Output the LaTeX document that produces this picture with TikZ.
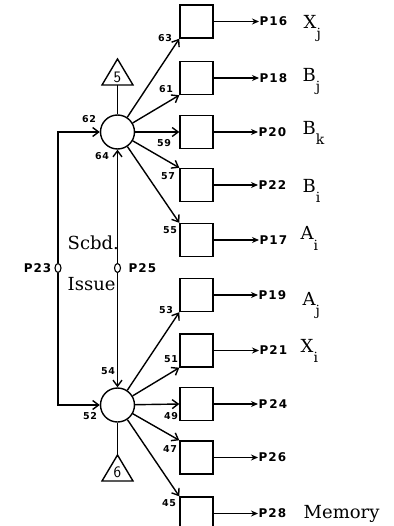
\documentclass[tikz,border=0pt]{standalone}
\usepackage{fontspec}
\setmainfont{DejaVu Serif}
\newfontfamily\lblfont[LetterSpace=8]{DejaVu Sans}
\usetikzlibrary{arrows.meta,shapes.geometric}
\newcommand\subx[2]{#1\raisebox{-10pt}{\fontsize{14}{14}\selectfont #2}}
\begin{document}
\begin{tikzpicture}[x=1pt,y=-1pt,line width=1.4pt,
  box/.style={draw,minimum width=33pt,minimum height=33pt,inner sep=0pt},
  hub/.style={draw,circle,minimum size=34pt,inner sep=0pt},
  tap/.style={draw,fill=white,ellipse,minimum width=6pt,minimum height=9pt,inner sep=0pt,line width=1.1pt},
  num/.style={font=\fontsize{9.5}{9.5}\selectfont\lblfont\bfseries,inner sep=0pt},
  plab/.style={font=\fontsize{12}{12}\selectfont\lblfont\bfseries,inner sep=0pt,anchor=west},
  var/.style={font=\fontsize{18}{18}\selectfont,inner sep=0pt,anchor=base west},
  tri/.style={font=\fontsize{16}{16}\selectfont\sffamily,inner sep=0pt},
  arr/.style={-{Straight Barb[length=6pt,width=9pt]}},
  outarr/.style={-{Stealth[length=7pt,width=6pt]}}
]
\useasboundingbox (0,0) rectangle (393,526);
\clip (0,0) rectangle (393,526);

% hubs
\node[hub] (c1) at (117.5,132) {};
\node[hub] (c2) at (117.5,405) {};

% triangles
\draw (117.5,59) -- (133,85) -- (102,85) -- cycle;
\node[tri] (five) at (117.5,77) {5};
\coordinate (t5) at (117.5,85);
\draw (t5) -- (c1);
\draw (117.5,455) -- (133,481) -- (102,481) -- cycle;
\node[tri] (six) at (117.5,472) {6};
\coordinate (t6) at (117.5,455);
\draw (t6) -- (c2);

% boxes
\node[box] (b63) at (196.5,21.5) {};
\node[box] (b61) at (196.5,78) {};
\node[box] (b59) at (196.5,132) {};
\node[box] (b57) at (196.5,185) {};
\node[box] (b55) at (196.5,240) {};
\node[box] (b53) at (196.5,295) {};
\node[box] (b51) at (196.5,350.5) {};
\node[box] (b49) at (196.5,404) {};
\node[box] (b47) at (196.5,457.5) {};
\node[box] (b45) at (196.5,513.5) {};

% hub to boxes
\draw[arr] (c1) -- (b63.south west);
\draw[arr] (c1) -- (b61.south west);
\draw[arr] (c1) -- (b59.west);
\draw[arr] (c1) -- (b57.north west);
\draw[arr] (c1) -- (b55.north west);
\draw[arr] (c2) -- (b53.south west);
\draw[arr] (c2) -- (b51.south west);
\draw[arr] (c2) -- (b49.west);
\draw[arr] (c2) -- (b47.north west);
\draw[arr] (c2) -- (b45.north west);

% taps and feed lines
\node[tap] (tapL) at (58,268) {};
\node[tap] (tapM) at (117.5,268) {};
\draw[arr] (tapL) |- (c1);
\draw[arr] (tapL) |- (c2);
\draw[arr] (tapM) -- (c1);
\draw[arr] (tapM) -- (c2);
\node[plab,anchor=east] (p23) at (52,268) {P23};
\node[plab] (p25) at (128,268) {P25};

% outputs
\node[plab] (p16) at (259,21.5) {P16};
\node[plab] (p18) at (259,78) {P18};
\node[plab] (p20) at (258,132) {P20};
\node[plab] (p22) at (258,185) {P22};
\node[plab] (p17) at (259,240) {P17};
\node[plab] (p19) at (258,295) {P19};
\node[plab] (p21) at (259,350.5) {P21};
\node[plab] (p24) at (258,404) {P\,24};
\node[plab] (p26) at (258,457.5) {P26};
\node[plab] (p28) at (258,513.5) {P28};
\foreach \b/\p in {b63/p16,b61/p18,b59/p20,b57/p22,b55/p17,b53/p19,b51/p21,b49/p24,b47/p26,b45/p28}
  \draw[outarr] (\b.east) -- (\p.west);

% variable labels
\node[var] (vxj) at (303,29) {\subx{X}{j}};
\node[var] (vbj) at (302,82) {\subx{B}{j}};
\node[var] (vbk) at (302,135) {\subx{B}{k}};
\node[var] (vbi) at (302,193) {\subx{B}{i}};
\node[var] (vai) at (300,240) {\subx{A}{i}};
\node[var] (vaj) at (302,305) {\subx{A}{j}};
\node[var] (vxi) at (300,352) {\subx{X}{i}};
\node[var] (mem) at (303,518) {Memory};
\node[var] (scbd) at (67,249) {Scbd.};
\node[var] (issue) at (67,290) {Issue};

% numbers
\node[num] (n62) at (89,119.5) {62};
\node[num] (n64) at (102,156.5) {64};
\node[num] (n63) at (165,38) {63};
\node[num] (n61) at (166,89) {61};
\node[num] (n59) at (164,143) {59};
\node[num] (n57) at (168,176.5) {57};
\node[num] (n55) at (170,230.5) {55};
\node[num] (n53) at (166,310) {53};
\node[num] (n51) at (171,359) {51};
\node[num] (n54) at (108,371.5) {54};
\node[num] (n52) at (90,416.5) {52};
\node[num] (n49) at (171,416) {49};
\node[num] (n47) at (170,449.5) {47};
\node[num] (n45) at (169,503.5) {45};
\end{tikzpicture}
\end{document}
